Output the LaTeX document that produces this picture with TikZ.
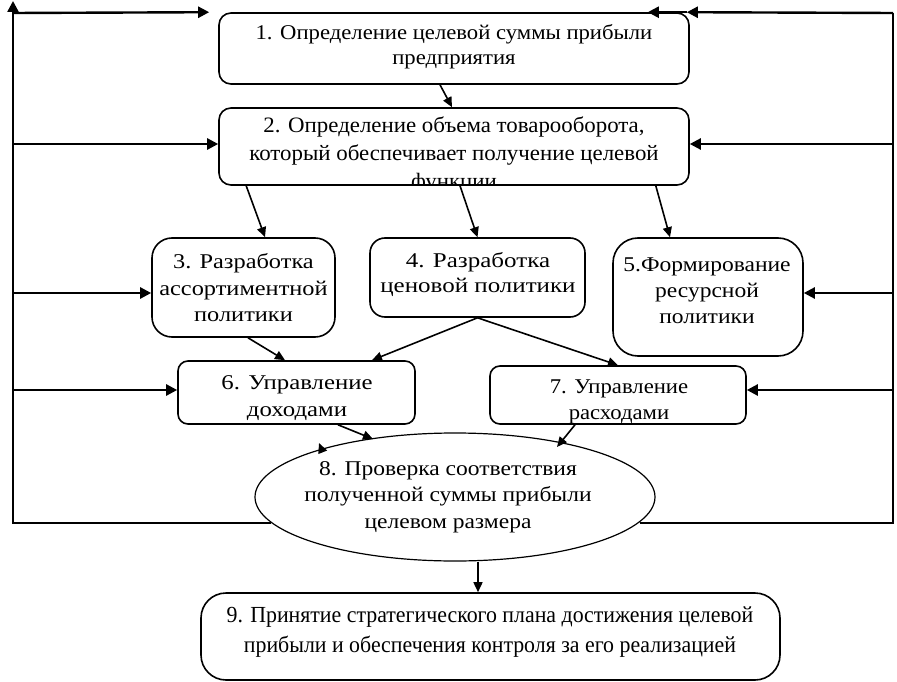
\documentclass[tikz,border=0pt]{standalone}
\usepackage{fontspec}
\setmainfont{Liberation Serif}
\usetikzlibrary{arrows.meta,shapes.geometric,calc}
\begin{document}
\begin{tikzpicture}[x=1pt,y=-1pt,
  box/.style={draw,line width=1.6pt,rounded corners=#1,inner sep=0pt},
  box/.default=12pt,
  txt/.style n args={3}{align=center,inner sep=0pt,
     font=\fontsize{#1}{#2}\selectfont\addfontfeature{FakeStretch=#3}},
  arr/.style={line width=1.6pt,-{Triangle[length=10pt,width=9pt]}},
  fb/.style={line width=2.4pt},
  fba/.style={line width=2.4pt,-{Triangle[length=11pt,width=11pt]}}]
\useasboundingbox (0,0) rectangle (897,682);

% boxes
\node[box, minimum width=470pt, minimum height=71pt] (b1) at (454,48.5) {};
\node[box, minimum width=470pt, minimum height=77pt] (b2) at (454,146.5) {};
\node[box=20pt, minimum width=183pt, minimum height=99pt] (b3) at (243.5,287.5) {};
\node[box=15pt, minimum width=215pt, minimum height=79pt] (b4) at (477.5,277.5) {};
\node[box=25pt, minimum width=190pt, minimum height=118pt] (b5) at (708,297) {};
\node[box=10pt, minimum width=237pt, minimum height=63pt] (b6) at (296.5,392.5) {};
\node[box=10pt, minimum width=256pt, minimum height=58pt] (b7) at (618,395) {};
\node[draw, line width=1.2pt, ellipse, inner sep=0pt, minimum width=400pt, minimum height=128pt] (b8) at (455,497) {};
\node[box=25pt, minimum width=579pt, minimum height=87pt] (b9) at (490.5,636.5) {};

% texts
\node[txt={21}{25}{1.08}] (t1) at (454,47) {1. Определение целевой суммы прибыли\\предприятия};
\begin{scope}
\clip[rounded corners=12pt] (b2.north west) rectangle (b2.south east);
\node[txt={22}{27.5}{1.04}] (t2) at (454,155) {2. Определение объема товарооборота,\\который обеспечивает получение целевой\\функции};
\end{scope}
\node[txt={21}{26.5}{1.16}] (t3) at (243.5,288) {3. Разработка\\ассортиментной\\политики};
\node[txt={21}{25}{1.19}] (t4) at (478,275) {4. Разработка\\ценовой политики};
\node[txt={21}{26}{1.12}] (t5) at (707,291) {5.Формирование\\ресурсной\\политики};
\node[txt={21}{27}{1.18}] (t6) at (297,398) {6. Управление\\доходами};
\node[txt={21}{26}{1.08}] (t7) at (619,402) {7. Управление\\расходами};
\node[txt={21}{26.5}{1.12}] (t8) at (448,497) {8. Проверка соответствия\\полученной суммы прибыли\\целевом размера};
\node[txt={23}{30}{0.95}] (t9) at (490,632) {9. Принятие стратегического плана достижения целевой\\прибыли и обеспечения контроля за его реализацией};

% flow arrows
\draw[arr] ($(b1.south)+(-14,0)$) -- ($(b2.north)+(-2,0)$);
\draw[arr] ($(b2.south west)+(28,0)$) -- ($(b3.north)+(21.5,0)$);
\draw[arr] ($(b2.south)+(6,0)$) -- (b4.north);
\draw[arr] ($(b2.south east)+(-34,0)$) -- ($(b5.north)+(-38,0)$);
\draw[arr] ($(b3.south)+(4.5,0)$) -- ($(b6.north)+(-11.5,0)$);
\draw[arr] (b4.south) -- ($(b6.north)+(75.5,0)$);
\draw[arr] (b4.south) -- (b7.north);
\draw[arr] ($(b6.south)+(41.5,0)$) -- ($(b8)+(-82,-58)$);
\draw[arr] ($(b7.south)+(-43,0)$) -- ($(b8)+(102,-50)$);
\coordinate (s1) at ($(b8)+(-134,-49)$);
\coordinate (s2) at ($(b8)+(-136,-54)$);
\draw[arr] (s1) -- (s2);
\draw[arr] ($(b8.south)+(23,0)$) -- ($(b9.north)+(-12.5,0)$);

% left feedback
\coordinate (LB) at (13,523);
\coordinate (LT) at (13,1);
\coordinate (L1) at (13,13);
\coordinate (L2) at (13,144);
\coordinate (L3) at (13,293);
\coordinate (L4) at (13,390);
\draw[fba] ($(b8)+(-184,26)$) -- (LB) -- (LT);
\draw[fba] (L1) -- ($(b1.north west)+(-9,0)$);
\draw[fba] (L2) -- (L2 -| b2.west);
\draw[fba] (L3) -- (L3 -| b3.west);
\draw[fba] (L4) -- (L4 -| b6.west);

% right feedback
\coordinate (RB) at (893,523);
\coordinate (RT) at (893,13);
\coordinate (R2) at (893,144);
\coordinate (R3) at (893,293);
\coordinate (R4) at (893,390);
\coordinate (RT1) at ($(b1.north east)+(-3,0)$);
\draw[fb] ($(b8)+(185,26)$) -- (RB) -- (RT);
\draw[fba] (RT) -- (RT1);
\draw[fba] (RT1) -- ($(b1.north east)+(-42,0)$);
\draw[fba] (R2) -- (R2 -| b2.east);
\draw[fba] (R3) -- (R3 -| b5.east);
\draw[fba] (R4) -- (R4 -| b7.east);
\end{tikzpicture}
\end{document}
